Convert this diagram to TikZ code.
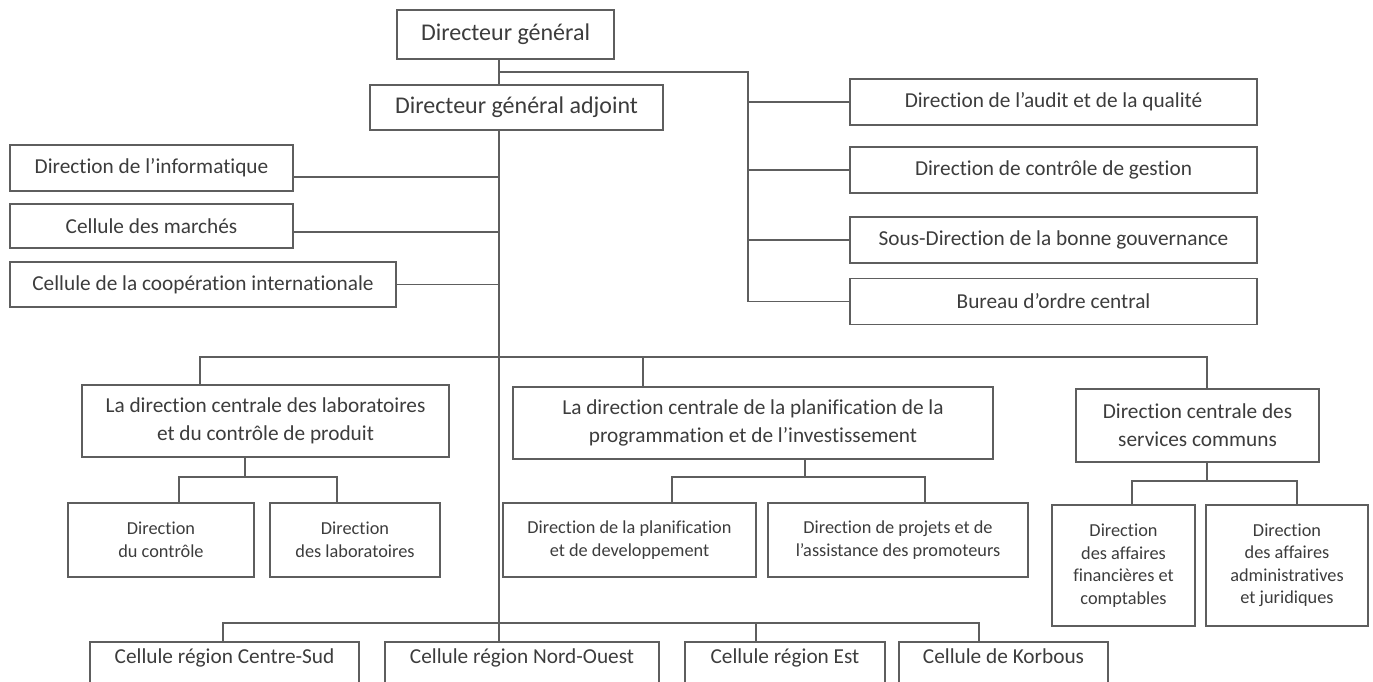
\documentclass[tikz,border=0pt]{standalone}
\usepackage{fontspec}
\setmainfont{Carlito}[Ligatures=NoCommon]

\newcommand\orgbig{\fontsize{24}{30}\selectfont}
\newcommand\orgmid{\fontsize{21.3}{28}\selectfont}
\newcommand\orgsmall{\fontsize{18.3}{22.5}\selectfont}

\definecolor{inkgray}{HTML}{3C3C3C}
\definecolor{linegray}{HTML}{5E5E5E}

\tikzset{
  unit/.style={draw=linegray, line width=1.5pt, text=inkgray, align=center, inner sep=0pt, font=\orgmid},
  head/.style={unit, font=\orgbig},
  staff/.style={unit, minimum width=407, minimum height=46},
  subunit/.style={unit, font=\orgsmall},
  cellbox/.style={unit, anchor=north, inner ysep=0pt, text height=22pt, text depth=28pt},
  link/.style={draw=linegray, line width=1.2pt},
}

\begin{document}
\begin{tikzpicture}[x=1pt,y=-1pt]
\useasboundingbox (0,0) rectangle (1373,682);

% direction
\node[head, minimum width=217, minimum height=49] (dg) at (505.5,34.5) {Directeur général};
\node[head, minimum width=293, minimum height=45] (dga) at (516.5,107.5) {Directeur général adjoint};

% services rattaches (droite)
\node[staff] (audit) at (1053.5,102) {Direction de l’audit et de la qualité};
\node[staff] (gestion) at (1053.5,170) {Direction de contrôle de gestion};
\node[staff] (gouv) at (1053.5,240) {Sous-Direction de la bonne gouvernance};
\node[staff] (bureau) at (1053.5,301.5) {Bureau d’ordre central};

% cellules (gauche)
\node[unit, minimum width=283, minimum height=46] (info) at (151.5,168) {Direction de l’informatique};
\node[unit, minimum width=283, minimum height=44] (marches) at (151.5,226) {Cellule des marchés};
\node[unit, minimum width=386, minimum height=45] (coop) at (203,284.5) {Cellule de la coopération internationale};

% directions centrales
\node[unit, minimum width=367, minimum height=72] (lab) at (265.5,421) {La direction centrale des laboratoires\\et du contrôle de produit};
\node[unit, minimum width=480, minimum height=72] (planif) at (753,423) {La direction centrale de la planification de la\\programmation et de l’investissement};
\node[unit, minimum width=243, minimum height=73] (services) at (1197.5,425.5) {Direction centrale des\\services communs};

% directions
\node[subunit, minimum width=186, minimum height=74] (ctrl) at (161,540) {Direction\\du contrôle};
\node[subunit, minimum width=170, minimum height=74] (labs) at (355,540) {Direction\\des laboratoires};
\node[subunit, minimum width=253, minimum height=74] (pdev) at (629.5,540) {Direction de la planification\\et de developpement};
\node[subunit, minimum width=260, minimum height=74] (proj) at (898,540) {Direction de projets et de\\l’assistance des promoteurs};
\node[subunit, minimum width=143, minimum height=121] (fin) at (1123.5,565.5) {Direction\\des affaires\\financières et\\comptables};
\node[subunit, minimum width=162, minimum height=121] (adm) at (1287,565.5) {Direction\\des affaires\\administratives\\et juridiques};

% cellules regionales
\node[cellbox, minimum width=269] (centre) at (224.5,641) {Cellule région Centre-Sud};
\node[cellbox, minimum width=274] (nord) at (522,641) {Cellule région Nord-Ouest};
\node[cellbox, minimum width=200] (est) at (785,641) {Cellule région Est};
\node[cellbox, minimum width=209] (korbous) at (1003.5,641) {Cellule de Korbous};

% points de jonction
\coordinate (trunk) at (499,623);
\coordinate (jr) at (748,72);
\coordinate (midL) at (200,357);
\coordinate (midP) at (643,357);
\coordinate (midR) at (1207,357);
\coordinate (labJ) at (245,477);
\coordinate (labA) at (179,477);
\coordinate (labB) at (337,477);
\coordinate (plJ) at (805,477);
\coordinate (plA) at (672,477);
\coordinate (plB) at (925,477);
\coordinate (svJ) at (1207,481);
\coordinate (svA) at (1132,481);
\coordinate (svB) at (1297,481);
\coordinate (botL) at (223,623);
\coordinate (botE) at (756,623);
\coordinate (botR) at (979,623);

% liaisons
\draw[link] (dg.south -| trunk) -- (dga.north -| trunk);
\draw[link] (dga.south -| trunk) -- (trunk) -- (trunk |- nord.north);
\draw[link] (trunk |- jr) -- (jr) -- (jr |- bureau.west);
\foreach \n in {audit,gestion,gouv,bureau}
  \draw[link] (jr |- \n.west) -- (\n.west);
\foreach \n/\d in {info/-9,marches/-6,coop/0}{
  \coordinate (\n R) at ([yshift=\d pt]\n.east);
  \draw[link] (\n R) -- (\n R -| trunk);
}

\draw[link] (midL |- lab.north) -- (midL) -- (midR) -- (midR |- services.north);
\draw[link] (midP) -- (midP |- planif.north);

\draw[link] (labJ |- lab.south) -- (labJ);
\draw[link] (labA |- ctrl.north) -- (labA) -- (labB) -- (labB |- labs.north);
\draw[link] (plJ |- planif.south) -- (plJ);
\draw[link] (plA |- pdev.north) -- (plA) -- (plB) -- (plB |- proj.north);
\draw[link] (svJ |- services.south) -- (svJ);
\draw[link] (svA |- fin.north) -- (svA) -- (svB) -- (svB |- adm.north);

\draw[link] (botL |- centre.north) -- (botL) -- (botR) -- (botR |- korbous.north);
\draw[link] (botE) -- (botE |- est.north);
\end{tikzpicture}
\end{document}
